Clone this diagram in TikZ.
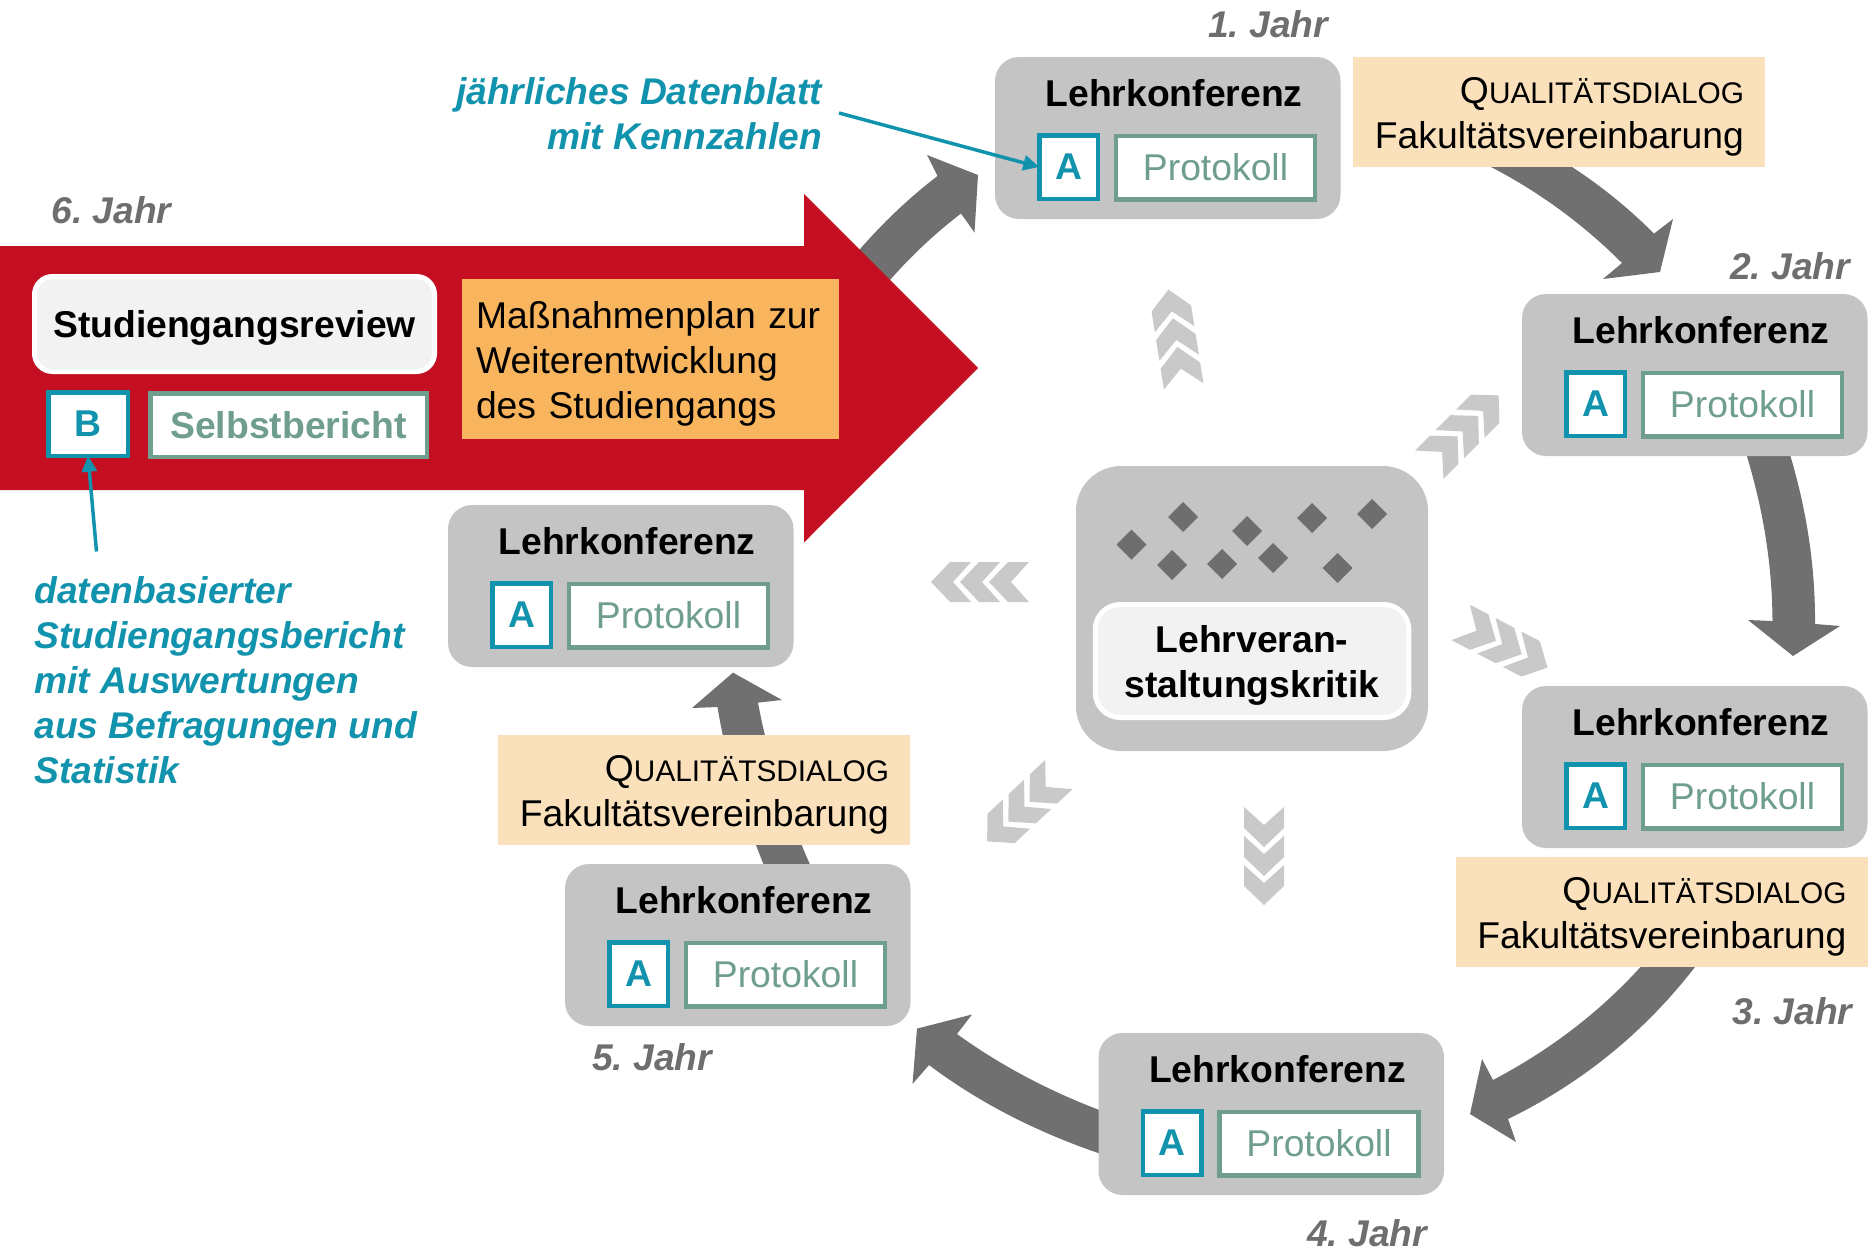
\documentclass[tikz,border=0pt]{standalone}
\usepackage{fontspec}
\setmainfont{Liberation Sans}
\usetikzlibrary{arrows.meta}
\frenchspacing
\definecolor{cTeal}{HTML}{1293AD}
\definecolor{cGreen}{HTML}{6F9E8E}
\definecolor{cFlow}{HTML}{707070}
\definecolor{cYear}{HTML}{6E6E6E}
\definecolor{cRed}{HTML}{C40F22}
\definecolor{cOrange}{HTML}{F9B55D}
\definecolor{cPeach}{HTML}{FBE0BC}
\definecolor{cBox}{HTML}{C4C4C4}
\definecolor{cChev}{HTML}{C9C9C9}
\definecolor{cLight}{HTML}{F2F2F2}
\newcommand{\bigtxt}{\fontsize{37.3}{45}\selectfont}
\newcommand{\bigbold}{\fontsize{37.3}{45}\selectfont\bfseries}
\newcommand{\bigital}{\fontsize{37.2}{44.8}\selectfont\bfseries\itshape}
\newcommand{\upstrut}{\rule{0pt}{36pt}}
\tikzset{
  every node/.style={inner sep=0pt,outer sep=0pt},
  lkbox/.style={fill=cBox,rounded corners=24pt,minimum width=345.5pt,minimum height=162pt},
  lktitle/.style={font=\bigbold,text=black},
  akey/.style={draw=cTeal,line width=4.5pt,fill=white,minimum width=58.5pt,minimum height=63.5pt,font=\bigbold,text=cTeal},
  protbox/.style={draw=cGreen,line width=4.5pt,fill=white,minimum width=199pt,minimum height=63.5pt,font=\bigtxt,text=cGreen},
  qdbox/.style={fill=cPeach,minimum width=412pt,minimum height=110pt,text width=370pt,align=right,font=\bigtxt,text=black},
  yearlbl/.style={font=\bigital,text=cYear},
  bluetxt/.style={font=\bigital,text=cTeal},
  bluearrow/.style={draw=cTeal,line width=3.5pt,-{Triangle[length=16pt,width=15pt]}},
  flow/.style={fill=cFlow},
  lightbox/.style={fill=cLight,draw=white,line width=5pt},
  dia/.style={fill=cYear},
  chevfill/.style={fill=cChev}
}
\newcommand{\lk}[3]{%
  \node[lkbox,anchor=north west] (#1) at (#2,#3) {};
  \node[lktitle] (#1t) at (#2+179,#3+36.5) {Lehrkonferenz};
  \node[akey] (#1a) at (#2+73.5,#3+110) {A};
  \node[protbox] (#1p) at (#2+220.5,#3+110.5) {Protokoll};
}
\newcommand{\qdtext}{\upstrut{\fontsize{37.3}{45}\selectfont Q\fontsize{29.8}{45}\selectfont UALITÄTSDIALOG}\\Fakultätsvereinbarung}
\newcommand{\chevone}[1]{\fill[chevfill] (#1,0) -- (#1-19,-20) -- (#1-40,-20) -- (#1-22,0) -- (#1-40,20) -- (#1-19,20) -- cycle;}
\newcommand{\chevgroup}[3]{\begin{scope}[shift={(#1,#2)},rotate=#3]\chevone{49}\chevone{20}\chevone{-9}\end{scope}}
\newcommand{\diam}[2]{\fill[dia] (#1-15,#2) -- (#1,#2-15) -- (#1+15,#2) -- (#1,#2+15) -- cycle;}
\begin{document}
\begin{tikzpicture}[x=1pt,y=-1pt]
\useasboundingbox (0,0) rectangle (1876,1250);
\coordinate (qd1s) at (1559,167);
\coordinate (qd2s) at (1661.5,967);
% thick flow arrows
\fill[flow] (855,255) .. controls (879.7,225.7) and (907.2,199.3) .. (937.5,176) -- (927,155) -- (978,175) -- (974.5,232.5) -- (961,213.5) .. controls (935,233.5) and (911.3,255.7) .. (890,280) -- cycle;
\fill[flow] ([xshift=-68pt]qd1s) .. controls (1539.7,192.3) and (1583.3,224.3) .. (1622,263) -- (1603,279) -- (1660,272) -- (1673,219) -- (1654,233.6) .. controls (1628.9,208.5) and (1601.6,186.3) .. ([xshift=13pt]qd1s) -- cycle;
\fill[flow] (1745,450) .. controls (1763,507.3) and (1772.2,564.3) .. (1772.5,621) -- (1748,620) -- (1793,656) -- (1840,626) -- (1815,624) .. controls (1815.4,566.5) and (1806.6,508.5) .. (1788.6,450) -- cycle;
\fill[flow] ([xshift=-21pt]qd2s) .. controls (1598.2,1013.5) and (1549,1050.5) .. (1493,1080) -- (1482,1059) -- (1470,1114) -- (1516,1142) -- (1508,1119) .. controls (1582,1083) and (1644.3,1032.3) .. ([xshift=33.5pt]qd2s) -- cycle;
\fill[flow] (1110,1114) .. controls (1051.3,1092.7) and (1000.3,1065.3) .. (957,1034) -- (972,1014.5) -- (917,1028.6) -- (912.5,1084) -- (929,1065) .. controls (980.3,1103.7) and (1040.7,1134.3) .. (1110,1157) -- cycle;
\fill[flow] (770,880) .. controls (743.3,816.7) and (725.8,759) .. (717.5,707) -- (692,708) -- (733,672.6) -- (782,700) -- (758,702.6) .. controls (768,757.5) and (787.7,816.7) .. (817,880) -- cycle;
% main red arrow
\fill[cRed] (0,246) -- (804,246) -- (804,194) -- (978,368) -- (804,542.5) -- (804,490) -- (0,490) -- cycle;
% Lehrkonferenz groups
\lk{lkA}{995}{57}
\lk{lkB}{1522}{294}
\lk{lkC}{1522}{686}
\lk{lkD}{1098.5}{1033}
\lk{lkE}{565}{864}
\lk{lkF}{448}{505}
% Qualitaetsdialog boxes
\node[qdbox] (qdA) at (1559,112) {\qdtext};
\node[qdbox] (qdB) at (1661.5,912) {\qdtext};
\node[qdbox] (qdC) at (704,790) {\qdtext};
% review block
\node[lightbox,rounded corners=18pt,minimum width=400pt,minimum height=95pt,font=\bigbold,text depth=0pt] (review) at (234.5,324) {Studiengangsreview};
\node[akey,minimum width=79.5pt,minimum height=63.5pt] (keyB) at (88,424) {B};
\node[protbox,minimum width=276.5pt,minimum height=63.5pt,font=\bigbold] (selbst) at (288.5,425) {Selbstbericht};
\node[fill=cOrange,minimum width=377pt,minimum height=160pt,text width=349pt,align=left,font=\bigtxt] (plan) at (650.5,359) {\upstrut Maßnahmenplan zur\\Weiterentwicklung\\des Studiengangs};
% centre block
\node[fill=cBox,rounded corners=45pt,minimum width=352pt,minimum height=285pt] (centre) at (1252,608.5) {};
\node[lightbox,rounded corners=25pt,minimum width=313.5pt,minimum height=113pt,align=center,font=\bigbold] (lvk) at (1252,661) {\upstrut Lehrveran-\\staltungskritik};
\diam{1131.5}{544.6}
\diam{1183}{517}
\diam{1247}{531}
\diam{1312}{518}
\diam{1372}{514}
\diam{1172}{565}
\diam{1222}{564}
\diam{1273}{558}
\diam{1337.5}{568}
% light chevrons
\chevgroup{1176}{338}{99}
\chevgroup{1464}{430}{45}
\chevgroup{1504}{645}{-27.5}
\chevgroup{1264}{856}{-90}
\chevgroup{1023}{808}{223}
\chevgroup{980}{582}{180}
% years
\node[yearlbl] (y1) at (1268,24) {1. Jahr};
\node[yearlbl] (y2) at (1790,266) {2. Jahr};
\node[yearlbl] (y3) at (1792.5,1011) {3. Jahr};
\node[yearlbl] (y4) at (1367,1233) {4. Jahr};
\node[yearlbl] (y5) at (652,1057) {5. Jahr};
\node[yearlbl] (y6) at (111.5,210) {6. Jahr};
% blue annotations
\node[bluetxt,anchor=north east,align=right] (datenblatt) at (822,77.5) {jährliches Datenblatt\\mit Kennzahlen};
\node[bluetxt,anchor=north west,align=left] (bericht) at (34.5,577) {datenbasierter\\Studiengangsbericht\\mit Auswertungen\\aus Befragungen und\\Statistik};
\coordinate (dbfrom) at (839,113);
\coordinate (brfrom) at (96.5,551.5);
\draw[bluearrow] (dbfrom) -- (lkAa.west);
\draw[bluearrow] (brfrom) -- (keyB.south);
\end{tikzpicture}
\end{document}
